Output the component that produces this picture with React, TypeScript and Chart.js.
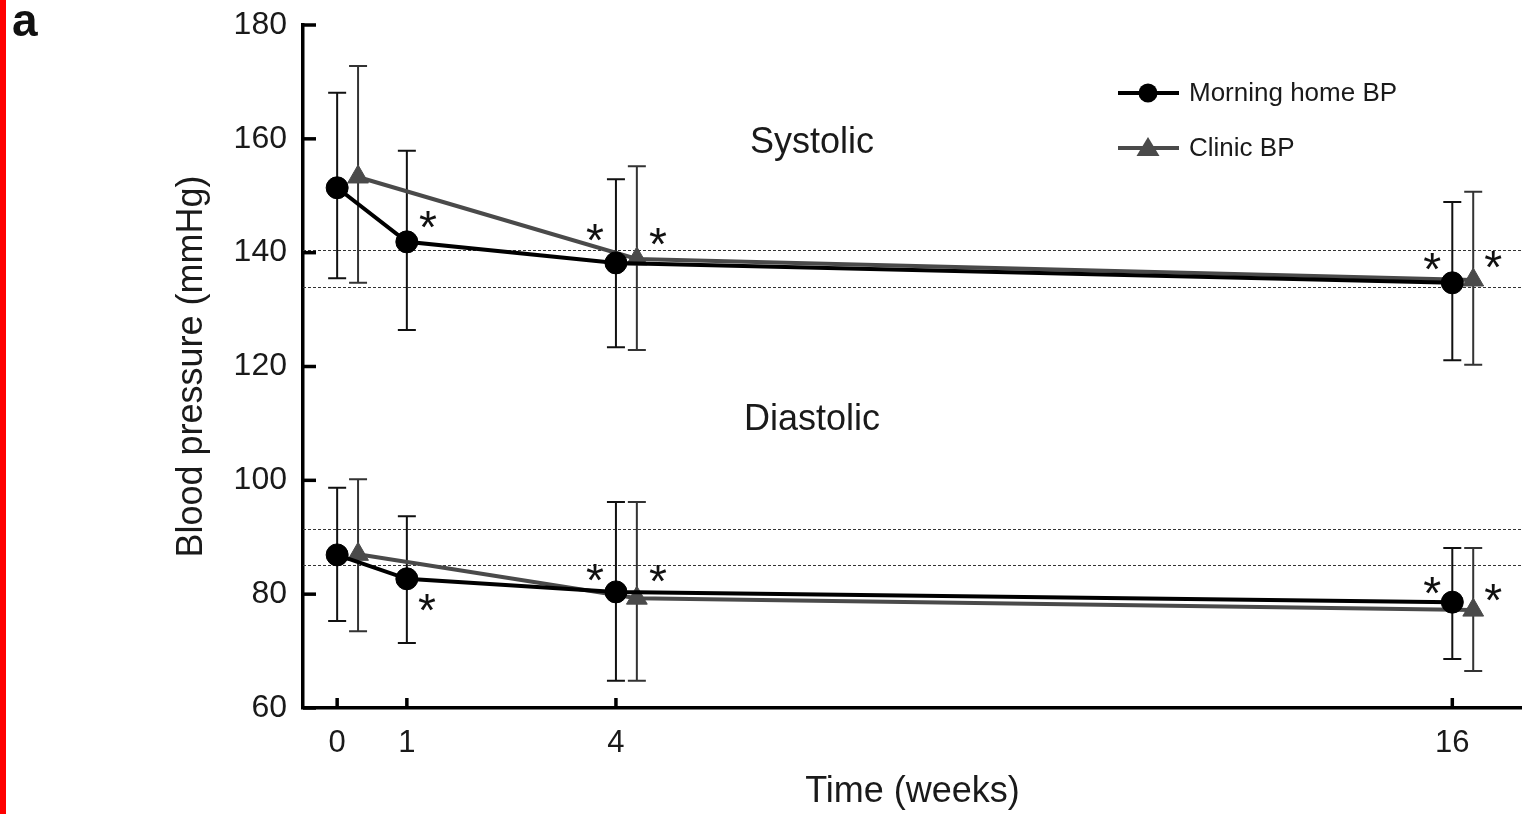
import React, { useEffect, useRef } from 'react';
import { Chart, registerables } from 'chart.js';

Chart.register(...registerables);

const FONT = '"Liberation Sans", Arial, Helvetica, sans-serif';
const INK = '#111111';
const CLINIC = '#4a4a4a';

// Visit times (weeks); clinic readings are plotted slightly to the right
const homeWeeks = [0, 1, 4, 16];
const clinicWeeks = [0.3, 4.3, 16.3];
const xTickValues = [0, 1, 4, 16];

// Systolic, mean and SD limits (mmHg)
const homeSys = [151.4, 141.9, 138.2, 134.7];
const homeSysLow = [135.5, 126.4, 123.4, 121.1];
const homeSysHigh = [168.1, 157.9, 152.9, 148.9];
const clinicSys = [153.3, 138.9, 135.2];
const clinicSysLow = [134.7, 122.9, 120.3];
const clinicSysHigh = [172.8, 155.2, 150.7];

// Diastolic, mean and SD limits (mmHg)
const homeDia = [86.9, 82.7, 80.4, 78.6];
const homeDiaLow = [75.3, 71.4, 64.8, 68.6];
const homeDiaHigh = [98.7, 93.7, 96.2, 88.1];
const clinicDia = [87.0, 79.3, 77.2];
const clinicDiaLow = [73.5, 64.8, 66.5];
const clinicDiaHigh = [100.2, 96.2, 88.1];

// Dotted reference levels (mmHg)
const referenceLevels = [140.5, 133.9, 91.5, 85.1];

// Significance markers: dataset index, point index, pixel offset from the point
const significance = [
  { ds: 0, i: 1, dx: 21, dy: -22 },
  { ds: 0, i: 2, dx: -21, dy: -30 },
  { ds: 1, i: 1, dx: 21, dy: -22 },
  { ds: 0, i: 3, dx: -20, dy: -21 },
  { ds: 1, i: 2, dx: 20, dy: -20 },
  { ds: 2, i: 1, dx: 20, dy: 24 },
  { ds: 2, i: 2, dx: -21, dy: -19 },
  { ds: 3, i: 1, dx: 21, dy: -25 },
  { ds: 2, i: 3, dx: -20, dy: -17 },
  { ds: 3, i: 2, dx: 20, dy: -18 },
];

const errorLimits: Record<number, { low: number[]; high: number[]; color: string }> = {
  0: { low: homeSysLow, high: homeSysHigh, color: INK },
  1: { low: clinicSysLow, high: clinicSysHigh, color: '#333333' },
  2: { low: homeDiaLow, high: homeDiaHigh, color: INK },
  3: { low: clinicDiaLow, high: clinicDiaHigh, color: '#333333' },
};

const pts = (xs: number[], ys: number[]) => xs.map((x, i) => ({ x, y: ys[i] }));

const zeroPadding = (s: any) => {
  s.paddingLeft = 0;
  s.paddingRight = 0;
  s.paddingTop = 0;
  s.paddingBottom = 0;
};

const decor = {
  id: 'decor',
  beforeDraw(chart: any) {
    const { ctx, width, height } = chart;
    ctx.save();
    ctx.fillStyle = '#ffffff';
    ctx.fillRect(0, 0, width, height);
    ctx.fillStyle = '#ff0000';
    ctx.fillRect(0, 0, 6, height);
    ctx.restore();
  },
  beforeDatasetsDraw(chart: any) {
    const { ctx, chartArea, scales } = chart;
    const x = scales.x;
    const y = scales.y;
    ctx.save();
    // dotted reference levels
    ctx.strokeStyle = '#333333';
    ctx.lineWidth = 1.2;
    ctx.setLineDash([3, 2]);
    referenceLevels.forEach((v) => {
      const py = Math.round(y.getPixelForValue(v)) + 0.5;
      ctx.beginPath();
      ctx.moveTo(chartArea.left, py);
      ctx.lineTo(chartArea.right, py);
      ctx.stroke();
    });
    ctx.setLineDash([]);
    // inward tick marks
    ctx.strokeStyle = '#000000';
    ctx.lineWidth = 3.5;
    y.ticks.forEach((t: any) => {
      const py = y.getPixelForValue(t.value);
      ctx.beginPath();
      ctx.moveTo(chartArea.left, py);
      ctx.lineTo(chartArea.left + 13, py);
      ctx.stroke();
    });
    x.ticks.forEach((t: any) => {
      const px = x.getPixelForValue(t.value);
      ctx.beginPath();
      ctx.moveTo(px, chartArea.bottom);
      ctx.lineTo(px, chartArea.bottom - 10);
      ctx.stroke();
    });
    // error bars
    Object.keys(errorLimits).forEach((k) => {
      const di = Number(k);
      const lim = errorLimits[di];
      const ds = chart.data.datasets[di];
      ctx.strokeStyle = lim.color;
      ctx.lineWidth = 2;
      ds.data.forEach((p: any, i: number) => {
        const px = x.getPixelForValue(p.x);
        const top = y.getPixelForValue(lim.high[i]);
        const bot = y.getPixelForValue(lim.low[i]);
        ctx.beginPath();
        ctx.moveTo(px, top);
        ctx.lineTo(px, bot);
        ctx.moveTo(px - 9, top);
        ctx.lineTo(px + 9, top);
        ctx.moveTo(px - 9, bot);
        ctx.lineTo(px + 9, bot);
        ctx.stroke();
      });
    });
    ctx.restore();
  },
  afterDatasetsDraw(chart: any) {
    const { ctx } = chart;
    ctx.save();
    ctx.fillStyle = INK;
    ctx.font = `46px ${FONT}`;
    ctx.textAlign = 'center';
    ctx.textBaseline = 'alphabetic';
    const m = ctx.measureText('*');
    const mid = (m.actualBoundingBoxAscent - m.actualBoundingBoxDescent) / 2;
    significance.forEach((s) => {
      const el = chart.getDatasetMeta(s.ds).data[s.i];
      ctx.fillText('*', el.x + s.dx, el.y + s.dy + mid);
    });
    ctx.restore();
  },
  afterDraw(chart: any) {
    const { ctx, chartArea } = chart;
    ctx.save();
    ctx.fillStyle = '#1a1a1a';
    ctx.textAlign = 'center';
    ctx.textBaseline = 'middle';
    ctx.font = `36px ${FONT}`;
    ctx.fillText('Systolic', 812, 143);
    ctx.fillText('Diastolic', 812, 420);
    ctx.fillText('Time (weeks)', (chartArea.left + chartArea.right) / 2, 792);
    ctx.save();
    ctx.translate(192, (chartArea.top + chartArea.bottom) / 2);
    ctx.rotate(-Math.PI / 2);
    ctx.fillText('Blood pressure (mmHg)', 0, 0);
    ctx.restore();

    // panel letter
    ctx.textAlign = 'left';
    ctx.textBaseline = 'alphabetic';
    ctx.font = `bold 46px ${FONT}`;
    ctx.fillStyle = '#111111';
    ctx.fillText('a', 12, 36);

    // legend
    const items = [
      { label: 'Morning home BP', color: '#000000', shape: 'circle', y: 93 },
      { label: 'Clinic BP', color: CLINIC, shape: 'triangle', y: 148 },
    ];
    items.forEach((it) => {
      ctx.strokeStyle = it.color;
      ctx.fillStyle = it.color;
      ctx.lineWidth = 4;
      ctx.beginPath();
      ctx.moveTo(1118, it.y);
      ctx.lineTo(1179, it.y);
      ctx.stroke();
      ctx.beginPath();
      if (it.shape === 'circle') {
        ctx.arc(1148, it.y, 9.5, 0, Math.PI * 2);
      } else {
        ctx.moveTo(1148, it.y - 11);
        ctx.lineTo(1159.5, it.y + 8);
        ctx.lineTo(1136.5, it.y + 8);
        ctx.closePath();
      }
      ctx.fill();
      ctx.fillStyle = '#1a1a1a';
      ctx.font = `26px ${FONT}`;
      ctx.textBaseline = 'middle';
      ctx.fillText(it.label, 1189, it.y + 1);
    });
    ctx.restore();
  },
};

export default function App() {
  const ref = useRef<HTMLCanvasElement>(null);

  useEffect(() => {
    const lineDs = (label: string, data: any[], color: string, style: string) => ({
      label,
      data,
      borderColor: color,
      backgroundColor: color,
      pointBackgroundColor: color,
      pointBorderColor: color,
      borderWidth: 4,
      pointStyle: style,
      pointRadius: style === 'circle' ? 11 : 12,
      pointBorderWidth: 1,
      tension: 0,
    });

    const chart = new Chart(ref.current as HTMLCanvasElement, {
      type: 'line',
      data: {
        datasets: [
          lineDs('Morning home BP systolic', pts(homeWeeks, homeSys), '#000000', 'circle'),
          lineDs('Clinic BP systolic', pts(clinicWeeks, clinicSys), CLINIC, 'triangle'),
          lineDs('Morning home BP diastolic', pts(homeWeeks, homeDia), '#000000', 'circle'),
          lineDs('Clinic BP diastolic', pts(clinicWeeks, clinicDia), CLINIC, 'triangle'),
        ] as any,
      },
      options: {
        responsive: false,
        devicePixelRatio: 1,
        animation: false,
        layout: { autoPadding: false, padding: { top: 25, left: 0, right: 0, bottom: 0 } },
        plugins: { legend: { display: false }, tooltip: { enabled: false } },
        scales: {
          x: {
            type: 'linear',
            min: -0.49,
            max: 17.0,
            afterBuildTicks: (s: any) => {
              s.ticks = xTickValues.map((v) => ({ value: v }));
            },
            afterFit: (s: any) => {
              s.height = 106;
              zeroPadding(s);
            },
            ticks: {
              autoSkip: false,
              maxRotation: 0,
              padding: 17,
              color: '#1a1a1a',
              font: { family: FONT, size: 31 },
              callback: (v: any) => String(v),
            },
            grid: { display: false, drawTicks: false },
            border: { display: true, color: '#000000', width: 3.5 },
          },
          y: {
            type: 'linear',
            min: 60,
            max: 180,
            afterFit: (s: any) => {
              s.width = 303;
              zeroPadding(s);
            },
            ticks: {
              stepSize: 20,
              padding: 16,
              color: '#1a1a1a',
              font: { family: FONT, size: 32 },
            },
            grid: { display: false, drawTicks: false },
            border: { display: true, color: '#000000', width: 3.5 },
          },
        },
      } as any,
      plugins: [decor],
    });
    return () => chart.destroy();
  }, []);

  return (
    <div style={{ position: 'fixed', left: 0, top: 0, width: 1522, height: 814, background: '#fff' }}>
      <canvas ref={ref} width={1522} height={814} style={{ display: 'block', width: 1522, height: 814 }} />
    </div>
  );
}
